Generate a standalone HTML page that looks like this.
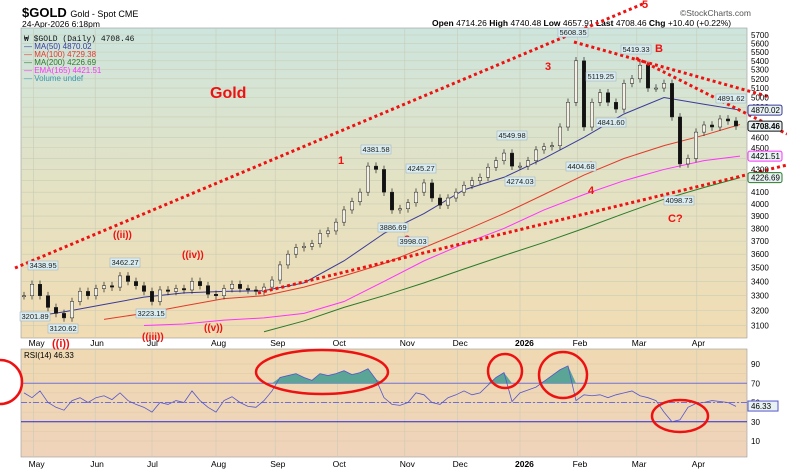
<!DOCTYPE html>
<html><head><meta charset="utf-8">
<style>
html,body{margin:0;padding:0;background:#fff;}
svg{display:block;font-family:"Liberation Sans",sans-serif;}
</style></head>
<body>
<svg id="c" width="787" height="471" xmlns="http://www.w3.org/2000/svg">
<defs>
<linearGradient id="bg" x1="0" y1="0" x2="0" y2="1">
<stop offset="0" stop-color="#cde5de"/><stop offset="0.5" stop-color="#e3e2c4"/><stop offset="1" stop-color="#f1dcb3"/>
</linearGradient>
<linearGradient id="bg2" x1="0" y1="0" x2="0" y2="1">
<stop offset="0" stop-color="#efd9b2"/><stop offset="1" stop-color="#efd3bb"/>
</linearGradient>
</defs>
<text x="22" y="17" font-size="13" font-weight="bold">$GOLD <tspan font-size="9" font-weight="normal">Gold - Spot CME</tspan></text>
<text x="22" y="27" font-size="8.5">24-Apr-2026 6:18pm</text>
<text x="680" y="16" font-size="8.5" fill="#555">©StockCharts.com</text>
<text x="432" y="26" font-size="8.5"><tspan font-weight="bold">Open</tspan> 4714.26 <tspan font-weight="bold">High</tspan> 4740.48 <tspan font-weight="bold">Low</tspan> 4657.91 <tspan font-weight="bold">Last</tspan> 4708.46 <tspan font-weight="bold">Chg</tspan> +10.40 (+0.22%)</text>
<rect x="21" y="28" width="726" height="310" fill="url(#bg)" stroke="#999" stroke-width="0.6"/>
<rect x="21" y="349" width="726" height="108" fill="url(#bg2)" stroke="#999" stroke-width="0.6"/>
<g id="grid"></g>
<g id="ma"></g>
<g id="candles"></g>
<g id="rsi"></g>
<g id="annot"></g>
<g id="axes"></g>
</svg>
<script>
const closes=[3300,3380,3300,3220,3180,3150,3260,3330,3300,3350,3370,3360,3440,3400,3370,3330,3260,3340,3330,3350,3340,3400,3370,3310,3300,3350,3380,3350,3340,3330,3360,3410,3520,3600,3650,3660,3680,3760,3780,3850,3950,4020,4100,4330,4300,4100,3950,3960,4010,4100,4180,4050,3990,4050,4100,4160,4200,4230,4320,4380,4450,4330,4330,4380,4480,4510,4520,4700,4950,5400,4700,4950,5050,4950,4880,5150,5200,5350,5100,5100,5150,4800,4350,4400,4650,4720,4700,4780,4760,4710];
const ma50=[3150,3190,3240,3290,3320,3330,3335,3390,3550,3760,3920,4120,4230,4400,4600,4830,5000,4930,4870];
const ma100=[null,null,3140,3180,3230,3280,3300,3360,3440,3530,3650,3780,3920,4080,4250,4400,4520,4620,4725];
const ma200=[null,null,null,null,null,null,3060,3130,3220,3300,3390,3490,3590,3690,3800,3920,4040,4140,4227];
const ema165=[null,null,null,3100,3110,3135,3150,3180,3260,3400,3550,3680,3800,3950,4080,4200,4300,4380,4422];
const rsi=[60,55,62,50,45,42,52,55,50,55,57,53,60,52,48,45,40,50,48,52,50,62,52,45,40,52,56,50,46,45,52,62,76,78,80,76,73,80,78,80,83,79,81,85,74,55,48,47,50,60,58,50,48,55,58,62,58,60,68,76,81,51,60,63,66,72,78,84,88,52,58,57,58,55,58,60,62,57,55,52,40,30,32,45,49,50,52,51,50,46];
const priceTicks=[5700,5600,5500,5400,5300,5200,5100,5000,4900,4600,4500,4300,4100,4000,3900,3800,3700,3600,3500,3400,3300,3200,3100];
const rsiTicks=[90,70,50,30,10];
const months=["May","Jun","Jul","Aug","Sep","Oct","Nov","Dec","2026","Feb","Mar","Apr"];
const monthIdx=[1.2,8.9,16,24,31.4,39.2,47.6,54.2,62,69.2,76.6,84.1];

const NS="http://www.w3.org/2000/svg";
const X=i=>24+i*8;
const Y=p=>35+477*(Math.log(5700)-Math.log(p));
const RY=v=>364+(90-v)*0.9625;
function mk(par,tag,at){const e=document.createElementNS(NS,tag);for(const k in at)e.setAttribute(k,at[k]);document.getElementById(par).appendChild(e);return e;}

priceTicks.concat([4800,4700,4400,4200]).forEach(p=>{const l=mk('grid','line',{x1:21,x2:747,y1:Y(p),y2:Y(p),stroke:'#c9cdb5','stroke-width':0.6});

});
[90,80,70,60,50,40,30,20,10].forEach(v=>{const l=mk('grid','line',{x1:21,x2:747,y1:RY(v),y2:RY(v),stroke:'#dcc7a6','stroke-width':0.5});

});
monthIdx.forEach(m=>{[[28,338],[349,457]].forEach(r=>{const l=mk('grid','line',{x1:X(m),x2:X(m),y1:r[0],y2:r[1],stroke:'#c8cbb6','stroke-width':0.6});

});});

function maLine(arr,col,name){let d='';arr.forEach((v,i)=>{if(v==null)return;const x=Math.min(X(i*5),740);d+=(d?'L':'M')+x+','+Y(v);});
const p=mk('ma','path',{d:d,fill:'none',stroke:col,'stroke-width':1});

}
maLine(ma200,'#2a7a2a','ma200-line');maLine(ema165,'#ff33ff','ema165-line');maLine(ma100,'#e23a2a','ma100-line');maLine(ma50,'#3a3a9a','ma50-line');

closes.forEach((c,i)=>{const o=i?closes[i-1]:c;const hi=Math.max(o,c)*1.008,lo=Math.min(o,c)*0.992;const x=X(i);
const w=mk('candles','line',{x1:x,x2:x,y1:Y(hi),y2:Y(lo),stroke:'#222','stroke-width':0.7});


const b=mk('candles','rect',{x:x-1.75,y:Y(Math.max(o,c)),width:3.5,height:Math.max(1,Math.abs(Y(o)-Y(c))),fill:c>=o?'#f4f1e4':'#111',stroke:'#222','stroke-width':0.5});

});

[[70,'#7070d8',1,null],[30,'#2a2ad0',1,null],[50,'#7070d8',1,'6,2,2,2']].forEach(r=>{const l=mk('rsi','line',{x1:21,x2:747,y1:RY(r[0]),y2:RY(r[0]),stroke:r[1],'stroke-width':r[2]});if(r[3])l.setAttribute('stroke-dasharray',r[3]);

});
let fd='M'+X(0)+','+RY(70);rsi.forEach((v,i)=>{fd+='L'+X(i)+','+RY(Math.max(v,70));});fd+='L'+X(rsi.length-1)+','+RY(70)+'Z';
const f=mk('rsi','path',{d:fd,fill:'#5aa596',stroke:'none'});


let rd='';rsi.forEach((v,i)=>{rd+=(i?'L':'M')+X(i)+','+RY(v);});
const rl=mk('rsi','path',{d:rd,fill:'none',stroke:'#5555cc','stroke-width':0.8});



priceTicks.forEach(p=>{const t=mk('axes','text',{x:751,y:Y(p)+3,'font-size':8});t.textContent=p;

});
rsiTicks.forEach(v=>{const t=mk('axes','text',{x:751,y:RY(v)+3,'font-size':8});t.textContent=v;

});
months.forEach((m,i)=>{[346,467].forEach(y=>{const t=mk('axes','text',{x:X(monthIdx[i])-5,y:y,'font-size':8.5,'font-weight':m==='2026'?'bold':'normal'});t.textContent=m;

});});
[[4870.02,'#3a3a9a'],[4708.46,'#111'],[4421.51,'#ff33ff'],[4226.69,'#2a7a2a']].forEach(v=>{const y=Y(v[0]);
const r=mk('axes','rect',{x:748,y:y-5,width:34,height:10,rx:2,fill:'#e8f2f2',stroke:v[1],'stroke-width':1});


const t=mk('axes','text',{x:751,y:y+3,'font-size':8,'font-weight':v[1]==='#111'?'bold':'normal'});t.textContent=v[0].toFixed(2);

});
const rr=mk('axes','rect',{x:748,y:RY(46.33)-5,width:30,height:10,fill:'#e8f2f2',stroke:'#5555cc'});


const rt=mk('axes','text',{x:751,y:RY(46.33)+3,'font-size':8});rt.textContent='46.33';



[['$GOLD (Daily) 4708.46','#111',39],['MA(50) 4870.02','#3a3a9a',47],['MA(100) 4729.38','#e23a2a',55],['MA(200) 4226.69','#2a7a2a',63],['EMA(165) 4421.51','#ff33ff',71],['Volume undef','#3a9ab0',79]].forEach((l,i)=>{
const t=mk('axes','text',{x:24,y:l[2]+2,'font-size':8,fill:l[1],'font-family':i==0?'Liberation Mono':'Liberation Sans'});t.textContent=(i==0?'₩ ':'— ')+l[0];

});
const rsl=mk('axes','text',{x:24,y:358,'font-size':8});rsl.textContent='RSI(14) 46.33';



[[15,268,645,3],[574,42,770,97],[636,58,787,134],[258,293,787,165]].forEach(l=>{
const d=mk('annot','line',{x1:l[0],y1:l[1],x2:l[2],y2:l[3],stroke:'#ee1111','stroke-width':3,'stroke-dasharray':'3,3'});

});
[[322,372,66,22],[505,371,17,17],[563,375,24,23],[680,416,28,16],[0,382,22,22]].forEach(e=>{
const el=mk('annot','ellipse',{cx:e[0],cy:e[1],rx:e[2],ry:e[3],fill:'none',stroke:'#ee1111','stroke-width':2.5});

});
[['Gold',210,98,16],['1',338,164,11],['2',404,243,11],['3',545,70,11],['4',588,194,11],['5',642,8,11],['A',587,169,11],['B',655,52,11],['C?',668,222,11],['((i))',52,347,11],['((ii))',113,238,10],['((iii))',142,340,10],['((iv))',182,258,10],['((v))',204,331,10]].forEach(w=>{
const t=mk('annot','text',{x:w[1],y:w[2],'font-size':w[3],'font-weight':'bold',fill:'#ee1111'});t.textContent=w[0];

});
[['3438.95',28,268],['3201.89',20,319],['3120.62',48,331],['3462.27',110,265],['3223.15',136,316],['4381.58',361,152],['3886.69',378,230],['4245.27',406,171],['3998.03',398,244],['4549.98',497,138],['4274.03',505,184],['5608.35',558,35],['5119.25',586,79],['4841.60',596,125],['5419.33',621,52],['4404.68',566,169],['4098.73',664,203],['4891.62',716,101]].forEach(c=>{
const r=mk('annot','rect',{x:c[1],y:c[2]-7,width:30,height:9,fill:'#d9ecf0',stroke:'#9ab','stroke-width':0.5});


const t=mk('annot','text',{x:c[1]+1.5,y:c[2],'font-size':7.5,fill:'#222'});t.textContent=c[0];

});
</script>
</body></html>
